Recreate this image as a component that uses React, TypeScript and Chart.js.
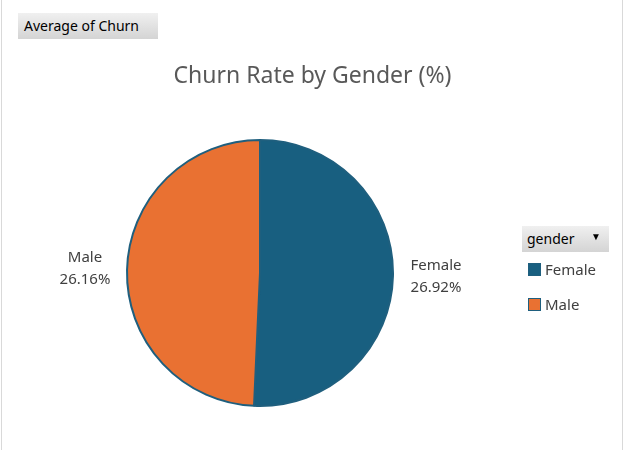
import { useEffect, useRef } from "react"
import { Chart, registerables } from "chart.js"

Chart.register(...registerables)

const categories = ["Female", "Male"]
const churnRates = [26.92, 26.16]
const sliceColors = ["#185F80", "#E97132"]
const labelPositions = [
  { x: 436, y: 266 },
  { x: 85, y: 258 },
]

const FONT = "'Noto Sans', 'Open Sans', sans-serif"

const outsideLabels = {
  id: "outsideLabels",
  afterDraw(chart: Chart) {
    const ctx = chart.ctx
    ctx.save()
    ctx.font = `15px ${FONT}`
    ctx.fillStyle = "#404040"
    ctx.textAlign = "center"
    ctx.textBaseline = "middle"
    categories.forEach((c, i) => {
      const p = labelPositions[i]
      ctx.fillText(c, p.x, p.y)
      ctx.fillText(churnRates[i].toFixed(2) + "%", p.x, p.y + 22)
    })
    ctx.restore()
  },
}

export default function App() {
  const ref = useRef<HTMLCanvasElement>(null)

  useEffect(() => {
    document.body.style.margin = "0"
    if (!ref.current) return
    const chart = new Chart(ref.current, {
      type: "pie",
      data: {
        labels: categories,
        datasets: [
          {
            data: churnRates,
            backgroundColor: sliceColors,
            borderColor: "#1F5F7E",
            borderWidth: 2,
          },
        ],
      },
      options: {
        animation: false,
        responsive: false,
        layout: { padding: { left: 126, right: 231, top: 139, bottom: 43 } },
        plugins: { legend: { display: false }, tooltip: { enabled: false } },
      },
      plugins: [outsideLabels],
    })
    return () => chart.destroy()
  }, [])

  const btn: React.CSSProperties = {
    position: "absolute",
    background: "linear-gradient(#f0f0f0, #d4d4d4)",
    color: "#000",
    fontFamily: FONT,
    fontSize: 14,
    boxSizing: "border-box",
  }

  return (
    <div style={{ position: "relative", width: 625, height: 450, background: "#fff", fontFamily: FONT }}>
      <div style={{ position: "absolute", left: 1, top: 0, width: 620, height: 450, borderLeft: "1px solid #d9d9d9", borderRight: "1px solid #d9d9d9" }} />
      <canvas ref={ref} width={625} height={450} style={{ position: "absolute", left: 0, top: 0 }} />
      <div style={{ ...btn, left: 18, top: 13, width: 140, height: 26, padding: "3px 6px" }}>Average of Churn</div>
      <div style={{ position: "absolute", left: 0, top: 58, width: 625, textAlign: "center", fontSize: 23, color: "#595959" }}>
        Churn Rate by Gender (%)
      </div>
      <div style={{ ...btn, left: 522, top: 226, width: 87, height: 26, padding: "3px 5px" }}>
        gender <span style={{ position: "absolute", right: 8, top: 3, fontSize: 10 }}>▼</span>
      </div>
      {categories.map((c, i) => (
        <div key={c} style={{ position: "absolute", left: 528, top: 259 + i * 35, fontSize: 15, color: "#404040", display: "flex", alignItems: "center" }}>
          <span style={{ width: 11, height: 11, background: sliceColors[i], border: "1px solid #1F5F7E", marginRight: 4, display: "inline-block" }} />
          {c}
        </div>
      ))}
    </div>
  )
}
